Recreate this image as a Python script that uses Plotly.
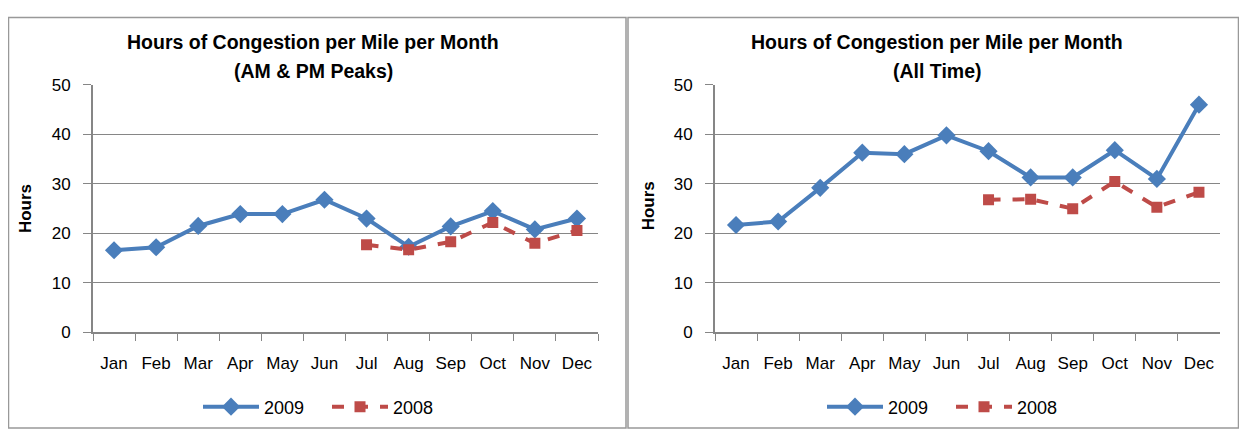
import plotly.graph_objects as go

months = ["Jan", "Feb", "Mar", "Apr", "May", "Jun", "Jul", "Aug", "Sep", "Oct", "Nov", "Dec"]
peak_2009 = [16.6, 17.2, 21.5, 23.9, 23.9, 26.8, 23.0, 17.3, 21.4, 24.5, 20.8, 23.0]
peak_2008 = [None, None, None, None, None, None, 17.7, 16.7, 18.3, 22.2, 18.0, 20.6]
all_2009 = [21.7, 22.4, 29.2, 36.3, 36.0, 39.8, 36.6, 31.3, 31.3, 36.8, 31.0, 46.0]
all_2008 = [None, None, None, None, None, None, 26.8, 26.9, 25.0, 30.5, 25.3, 28.3]
title_line1 = "Hours of Congestion per Mile per Month"
title_line2 = ["(AM & PM Peaks)", "(All Time)"]
yticks = [0, 10, 20, 30, 40, 50]

BLUE = "#4A7EBB"
RED = "#BE4B48"
GRID = "#868686"
FONT = "Liberation Sans"

W, H = 1231, 430
OFF = 8  # page body margin


def px(x):
    return (x - OFF) / W


def py(y):
    return 1 - (y - OFF) / H


fig = go.Figure()
panels = [(peak_2009, peak_2008, "", "legend"), (all_2009, all_2008, "2", "legend2")]
for s09, s08, ax, leg in panels:
    fig.add_trace(go.Scatter(x=months, y=s09, name="2009", mode="lines+markers",
                             line=dict(color=BLUE, width=4),
                             marker=dict(symbol="diamond", size=14, color=BLUE),
                             xaxis="x" + ax, yaxis="y" + ax, legend=leg))
    fig.add_trace(go.Scatter(x=months, y=s08, name="2008", mode="lines+markers",
                             line=dict(color=RED, width=4, dash="dash"),
                             marker=dict(symbol="square", size=11, color=RED),
                             xaxis="x" + ax, yaxis="y" + ax, legend=leg))

xdoms = [[px(93), px(598)], [px(715), px(1220)]]
ydom = [py(338), py(79)]
tickfont = dict(family=FONT, size=17, color="black")
common_x = dict(type="category", tickson="boundaries", ticks="outside", ticklen=7,
                tickcolor=GRID, showline=True, linecolor=GRID, linewidth=2,
                showgrid=False, tickfont=tickfont, range=[-0.5, 11.5], ticklabelstandoff=14)
common_y = dict(range=[0, 50], tickvals=yticks, ticks="outside", ticklen=8,
                tickcolor=GRID, showline=True, linecolor=GRID, linewidth=2,
                showgrid=True, gridcolor=GRID, gridwidth=1, zeroline=False,
                tickfont=tickfont, ticklabelstandoff=9)

legfont = dict(family=FONT, size=18, color="black")
titlefont = dict(family=FONT, size=19.5, color="black")
centers = [313, 937]
anns = []
for i, cx in enumerate(centers):
    anns.append(dict(text="<b>" + title_line1 + "</b>", x=px(cx), y=py(34), xref="paper", yref="paper",
                     xanchor="center", yanchor="middle", showarrow=False, font=titlefont))
    anns.append(dict(text="<b>" + title_line2[i] + "</b>", x=px(cx), y=py(64), xref="paper", yref="paper",
                     xanchor="center", yanchor="middle", showarrow=False, font=titlefont))
anns.append(dict(text="<b>Hours</b>", x=px(25), y=py(209), xref="paper", yref="paper",
                 xanchor="center", yanchor="middle", textangle=-90, showarrow=False,
                 font=dict(family=FONT, size=17, color="black")))
anns.append(dict(text="<b>Hours</b>", x=px(648), y=py(205), xref="paper", yref="paper",
                 xanchor="center", yanchor="middle", textangle=-90, showarrow=False,
                 font=dict(family=FONT, size=17, color="black")))

leg_common = dict(orientation="h", xanchor="center", y=py(416), yanchor="middle",
                  font=legfont, itemwidth=56, entrywidth=58, entrywidthmode="pixels")
fig.update_layout(
    width=W, height=H, margin=dict(l=0, r=0, t=0, b=0),
    paper_bgcolor="white", plot_bgcolor="white",
    xaxis=dict(domain=xdoms[0], anchor="y", **common_x),
    yaxis=dict(domain=ydom, anchor="x", **common_y),
    xaxis2=dict(domain=xdoms[1], anchor="y2", **common_x),
    yaxis2=dict(domain=ydom, anchor="x2", **common_y),
    legend=dict(x=px(327), **leg_common),
    legend2=dict(x=px(951), **leg_common),
    annotations=anns,
    shapes=[
        dict(type="rect", xref="paper", yref="paper", x0=0.5 / W, x1=px(626), y0=0, y1=1 - 0.5 / H,
             line=dict(color="#999999", width=1.5)),
        dict(type="rect", xref="paper", yref="paper", x0=px(628), x1=1 - 0.5 / W, y0=0, y1=1 - 0.5 / H,
             line=dict(color="#999999", width=1.5)),
    ],
)

fig.write_html("out.html")
